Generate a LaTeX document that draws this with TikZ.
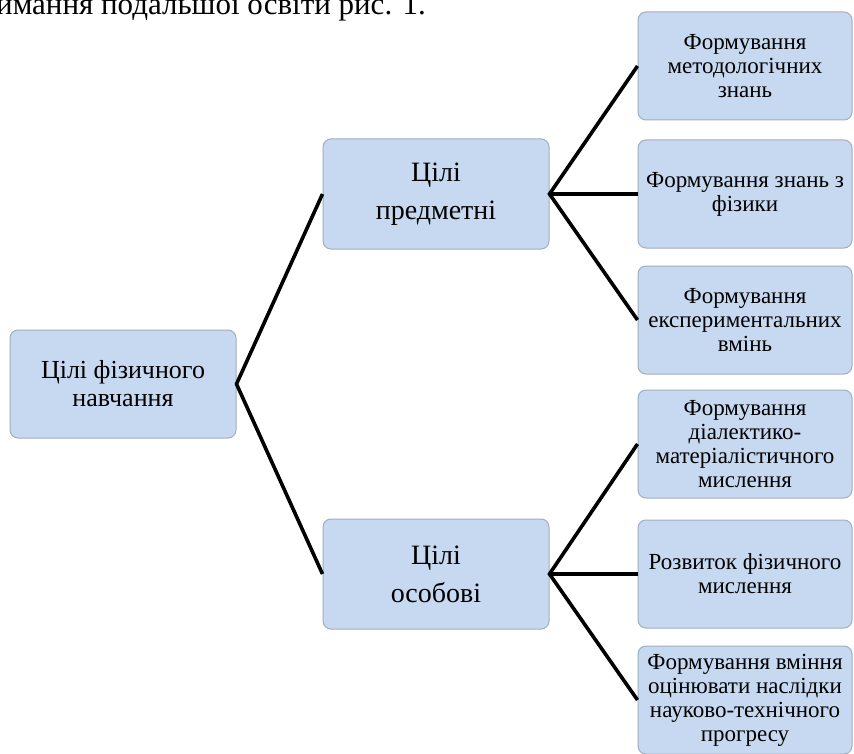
\documentclass[tikz,border=0pt]{standalone}
\usepackage{fontspec}
\setmainfont{Liberation Serif}
\usepackage{tikz}
\definecolor{boxfill}{HTML}{C6D9F1}
\definecolor{boxline}{HTML}{9FAEC2}

\begin{document}
\begin{tikzpicture}[x=1pt, y=-1pt,
  goal/.style={rectangle, rounded corners=8pt, draw=boxline, line width=1pt,
    fill=boxfill, align=center, inner sep=0pt},
  rootbox/.style={goal, minimum width=226pt, minimum height=108pt, font=\fontsize{26}{28}\selectfont},
  midbox/.style={goal, minimum width=226pt, minimum height=110pt, font=\fontsize{28}{38}\selectfont},
  leafbox/.style={goal, minimum width=214pt, minimum height=108pt, font=\fontsize{23}{24}\selectfont},
  link/.style={line width=3.6pt, black}]
\useasboundingbox (0,0) rectangle (854,754);
\node[anchor=base west, font=\fontsize{31}{34}\selectfont, inner sep=0pt] (top) at (-4,15) {ймання подальшої освіти рис. 1.};
\node[rootbox] (aims) at (123,384) {Цілі фізичного\\навчання};
\node[midbox] (subj) at (436,194) {Цілі\\предметні};
\node[midbox] (pers) at (436,574) {Цілі\\особові};
\node[leafbox] (meth) at (745,66) {Формування\\методологічних\\знань};
\node[leafbox] (phys) at (745,194) {Формування знань з\\фізики};
\node[leafbox] (expt) at (745,320) {Формування\\експериментальних\\вмінь};
\node[leafbox] (dial) at (745,444) {Формування\\діалектико-\\матеріалістичного\\мислення};
\node[leafbox] (think) at (745,574) {Розвиток фізичного\\мислення};
\node[leafbox] (prog) at (745,700) {Формування вміння\\оцінювати наслідки\\науково-технічного\\прогресу};
\draw[link] (subj.west) -- (aims.east) -- (pers.west);
\draw[link] (meth.west) -- (subj.east) -- (expt.west);
\draw[link] (subj.east) -- (phys.west);
\draw[link] (dial.west) -- (pers.east) -- (prog.west);
\draw[link] (pers.east) -- (think.west);
\end{tikzpicture}
\end{document}
